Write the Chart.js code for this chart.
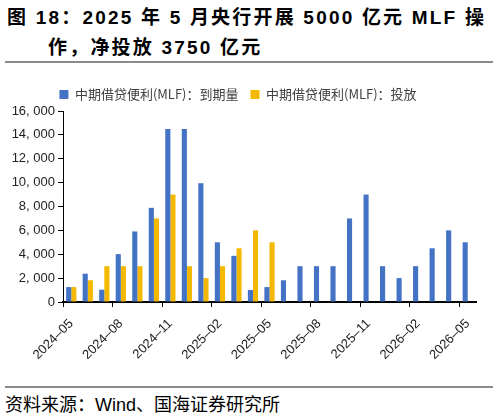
<!DOCTYPE html>
<html>
<head>
<meta charset="utf-8">
<script src="https://cdn.jsdelivr.net/npm/chart.js@4"></script>
<style>
  html, body { margin: 0; padding: 0; background: #fff; }
  body { width: 498px; height: 417px; position: relative; overflow: hidden; }
  #title { position: absolute; left: 7px; top: 3px; font: bold 19px "Liberation Sans", Arial, "Noto Sans CJK SC", sans-serif; color: #000; letter-spacing: 2.2px; white-space: nowrap; line-height: 30px; }
  #title .l2 { padding-left: 41px; }
  .rule { position: absolute; left: 5px; width: 488px; height: 0; border-top: 2px solid #8a8a8a; }
  #box { position: absolute; left: 0; top: 66px; width: 498px; height: 318px; }
  #source { position: absolute; left: 5px; top: 390px; font: 18px "Liberation Sans", Arial, "Noto Sans CJK SC", sans-serif; color: #000; white-space: nowrap; }
</style>
</head>
<body>
<div id="title">
  <div>图 18：2025 年 5 月央行开展 5000 亿元 MLF 操</div>
  <div class="l2">作，净投放 3750 亿元</div>
</div>
<div class="rule" style="top:61px"></div>
<div id="box"><canvas id="chart"></canvas></div>
<div class="rule" style="top:386px"></div>
<div id="source">资料来源：Wind、国海证券研究所</div>

<script>
// months, 2024-05 .. 2026-05
const months = ['2024-05', '2024-06', '2024-07', '2024-08', '2024-09', '2024-10', '2024-11', '2024-12',
    '2025-01', '2025-02', '2025-03', '2025-04', '2025-05', '2025-06', '2025-07', '2025-08', '2025-09',
    '2025-10', '2025-11', '2025-12', '2026-01', '2026-02', '2026-03', '2026-04', '2026-05'];
// 亿元
const maturity = [1250, 2370, 1030, 4010, 5910, 7890, 14500, 14500, 9950, 5000, 3870, 1000, 1250,
    1820, 3000, 3000, 3000, 7000, 9000, 3000, 2000, 3000, 4500, 6000, 5000];
const injection = [1250, 1820, 3000, 3000, 3000, 7000, 9000, 3000, 2000, 3000, 4500, 6000, 5000,
    null, null, null, null, null, null, null, null, null, null, null, null];
const yTicks = [0, 2000, 4000, 6000, 8000, 10000, 12000, 14000, 16000];

Chart.defaults.font.family = '"Liberation Sans", Arial, "Noto Sans CJK SC", sans-serif';
Chart.defaults.color = '#222';

const fmt = v => v >= 1000 ? Math.floor(v / 1000) + ', ' + String(v % 1000).padStart(3, '0') : String(v);

new Chart(document.getElementById('chart'), {
    type: 'bar',
    data: {
        labels: months,
        datasets: [
            { label: '中期借贷便利(MLF)：到期量', data: maturity, backgroundColor: '#4472C4' },
            { label: '中期借贷便利(MLF)：投放', data: injection, backgroundColor: '#F5B800' }
        ]
    },
    options: {
        responsive: true,
        maintainAspectRatio: false,
        animation: false,
        layout: { padding: { top: 10, right: 22, left: 0, bottom: 0 } },
        datasets: { bar: { categoryPercentage: 0.62, barPercentage: 1.0 } },
        plugins: {
            tooltip: { enabled: false },
            legend: {
                position: 'top',
                labels: {
                    boxWidth: 9, boxHeight: 9, padding: 12, color: '#404040',
                    font: { size: 13, family: '"Noto Sans CJK SC", sans-serif' }
                }
            }
        },
        scales: {
            x: {
                offset: true,
                grid: {
                    offset: true, drawOnChartArea: false, tickLength: 5, tickWidth: 1,
                    tickColor: ctx => ctx.index % 3 === 0 ? '#000' : 'rgba(0,0,0,0)'
                },
                border: { color: '#000', width: 2 },
                ticks: {
                    autoSkip: false, maxRotation: 45, minRotation: 45, padding: 9,
                    color: '#222', font: { size: 13 },
                    callback: (v, i) => i % 3 === 0 ? months[i].replace('-', '–') : ''
                },
                afterFit: s => { s.height = 82; }
            },
            y: {
                min: 0, max: 16000,
                afterBuildTicks: s => { s.ticks = yTicks.map(v => ({ value: v })); },
                grid: { drawOnChartArea: false, tickLength: 5, tickColor: '#000' },
                border: { color: '#000', width: 1 },
                ticks: { color: '#222', font: { size: 13 }, padding: 3, callback: v => fmt(v) },
                afterFit: s => { s.width = 63; }
            }
        }
    }
});
</script>
</body>
</html>
